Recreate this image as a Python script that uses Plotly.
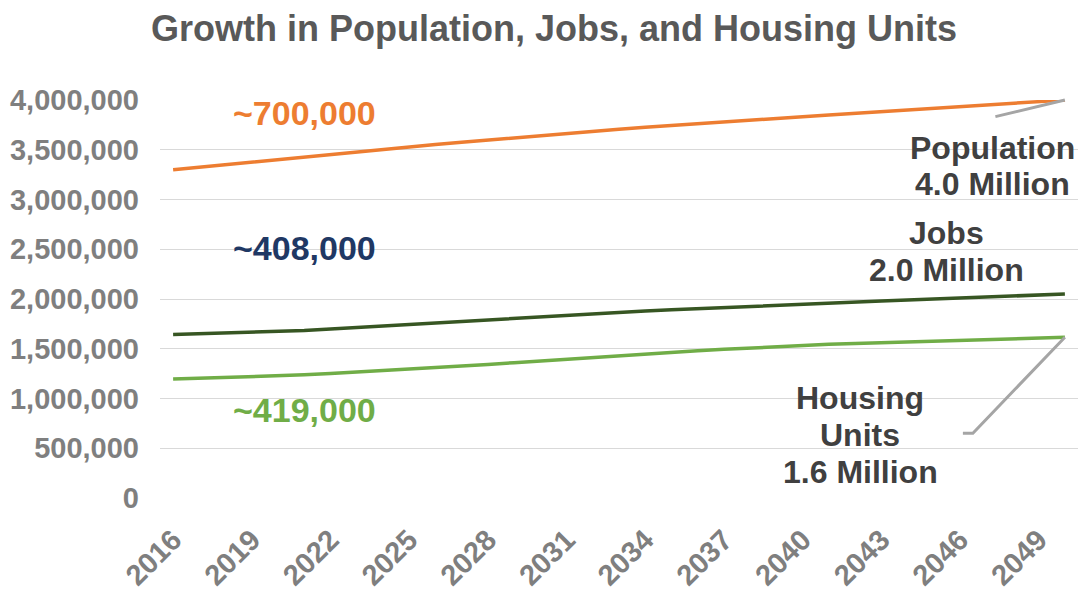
import plotly.graph_objects as go

years = list(range(2016, 2051))
population = [3300000, 3326000, 3352000, 3378000, 3404000, 3430000, 3455000, 3480000,
              3505000, 3529000, 3552000, 3575000, 3598000, 3620000, 3642000, 3664000,
              3685000, 3706000, 3726000, 3745000, 3764000, 3781000, 3798000, 3815000,
              3832000, 3849000, 3866000, 3883000, 3900000, 3917000, 3934000, 3950000,
              3967000, 3983000, 4000000]
jobs = [1642000, 1649000, 1656000, 1663000, 1670000, 1684000, 1699000, 1714000,
        1730000, 1746000, 1762000, 1778000, 1794000, 1810000, 1826000, 1841000,
        1856000, 1868000, 1880000, 1892000, 1904000, 1916000, 1927000, 1939000,
        1950000, 1960000, 1970000, 1980000, 1990000, 2000000, 2010000, 2020000,
        2030000, 2040000, 2050000]
housing = [1195000, 1202000, 1209000, 1216000, 1224000, 1238000, 1252000, 1266000,
           1280000, 1294000, 1308000, 1324000, 1342000, 1360000, 1378000, 1396000,
           1414000, 1432000, 1450000, 1465000, 1480000, 1494000, 1508000, 1522000,
           1536000, 1544000, 1552000, 1560000, 1568000, 1576000, 1584000, 1592000,
           1600000, 1608000, 1616000]
tick_years = list(range(2016, 2050, 3))
y_ticks = [0, 500000, 1000000, 1500000, 2000000, 2500000, 3000000, 3500000, 4000000]
y_tick_text = ["{:,}".format(v) for v in y_ticks]

growth_labels = ["~700,000", "~408,000", "~419,000"]
end_labels = {
    "pop": ["Population", "4.0 Million"],
    "jobs": ["Jobs", "2.0 Million"],
    "housing": ["Housing", "Units", "1.6 Million"],
}

FONT = "Liberation Sans"
C_POP = "#ED7D31"
C_JOBS = "#375623"
C_HOUS = "#70AD47"
C_NAVY = "#1F3864"
C_LABEL = "#404040"
C_LEADER = "#A5A5A5"

fig = go.Figure()
fig.add_trace(go.Scatter(x=years, y=population, mode="lines",
                         line=dict(color=C_POP, width=3.5), name="Population"))
fig.add_trace(go.Scatter(x=years, y=jobs, mode="lines",
                         line=dict(color=C_JOBS, width=3.5), name="Jobs"))
fig.add_trace(go.Scatter(x=years, y=housing, mode="lines",
                         line=dict(color=C_HOUS, width=3.5), name="Housing Units"))

annotations = []
for txt, col, yv in zip(growth_labels, [C_POP, C_NAVY, C_HOUS], [3869000, 2513000, 885000]):
    annotations.append(dict(x=2021.0, y=yv, xref="x", yref="y", text=txt, showarrow=False,
                            font=dict(family=FONT, size=34, color=col, weight="bold"),
                            xanchor="center", yanchor="middle"))

def add_lines(lines, xc, ytops):
    for t, yv in zip(lines, ytops):
        annotations.append(dict(x=xc, y=yv, xref="x", yref="y", text=t, showarrow=False,
                                font=dict(family=FONT, size=32, color=C_LABEL, weight="bold"),
                                xanchor="center", yanchor="middle"))

add_lines(end_labels["pop"], 2047.25, [3518000, 3156000])
add_lines(end_labels["jobs"], 2045.5, [2663000, 2291000])
add_lines(end_labels["housing"], 2042.2, [1005000, 633000, 261000])

annotations.append(dict(x=years[-1], y=population[-1], xref="x", yref="y", text="",
                        showarrow=True, arrowhead=0, arrowwidth=3, arrowcolor=C_LEADER,
                        ax=-71, ay=17, standoff=0, startstandoff=0))

fig.update_layout(annotations=annotations)

fig.add_shape(type="path", xref="x", yref="y", xsizemode="pixel", ysizemode="pixel",
              xanchor=years[-1], yanchor=housing[-1],
              path="M0,0 L-92,-96 L-102,-96",
              line=dict(color=C_LEADER, width=3))

fig.update_layout(
    width=1080, height=591,
    margin=dict(l=160, r=2, t=100, b=93, autoexpand=False),
    paper_bgcolor="white", plot_bgcolor="white",
    showlegend=False,
    title=dict(text="Growth in Population, Jobs, and Housing Units",
               x=0.513, xanchor="center", y=1 - 28 / 591, yanchor="middle",
               xref="container", yref="container",
               font=dict(family=FONT, size=36, color="#595959", weight="bold")),
    xaxis=dict(range=[2015.5, 2050.5], tickmode="array", tickvals=tick_years,
               ticktext=[str(y) for y in tick_years], tickangle=-45,
               showgrid=False, zeroline=False, showline=False, automargin=False,
               tickfont=dict(family=FONT, size=29, color="#7F7F7F", weight="bold"),
               ticklabelstandoff=18),
    yaxis=dict(range=[0, 4000000], tickmode="array", tickvals=y_ticks, ticktext=y_tick_text,
               showgrid=True, gridcolor="#D9D9D9", gridwidth=1.3,
               zeroline=False, showline=False, automargin=False,
               tickfont=dict(family=FONT, size=29, color="#7F7F7F", weight="bold"),
               ticklabelstandoff=20),
)

fig.write_html("out.html")
